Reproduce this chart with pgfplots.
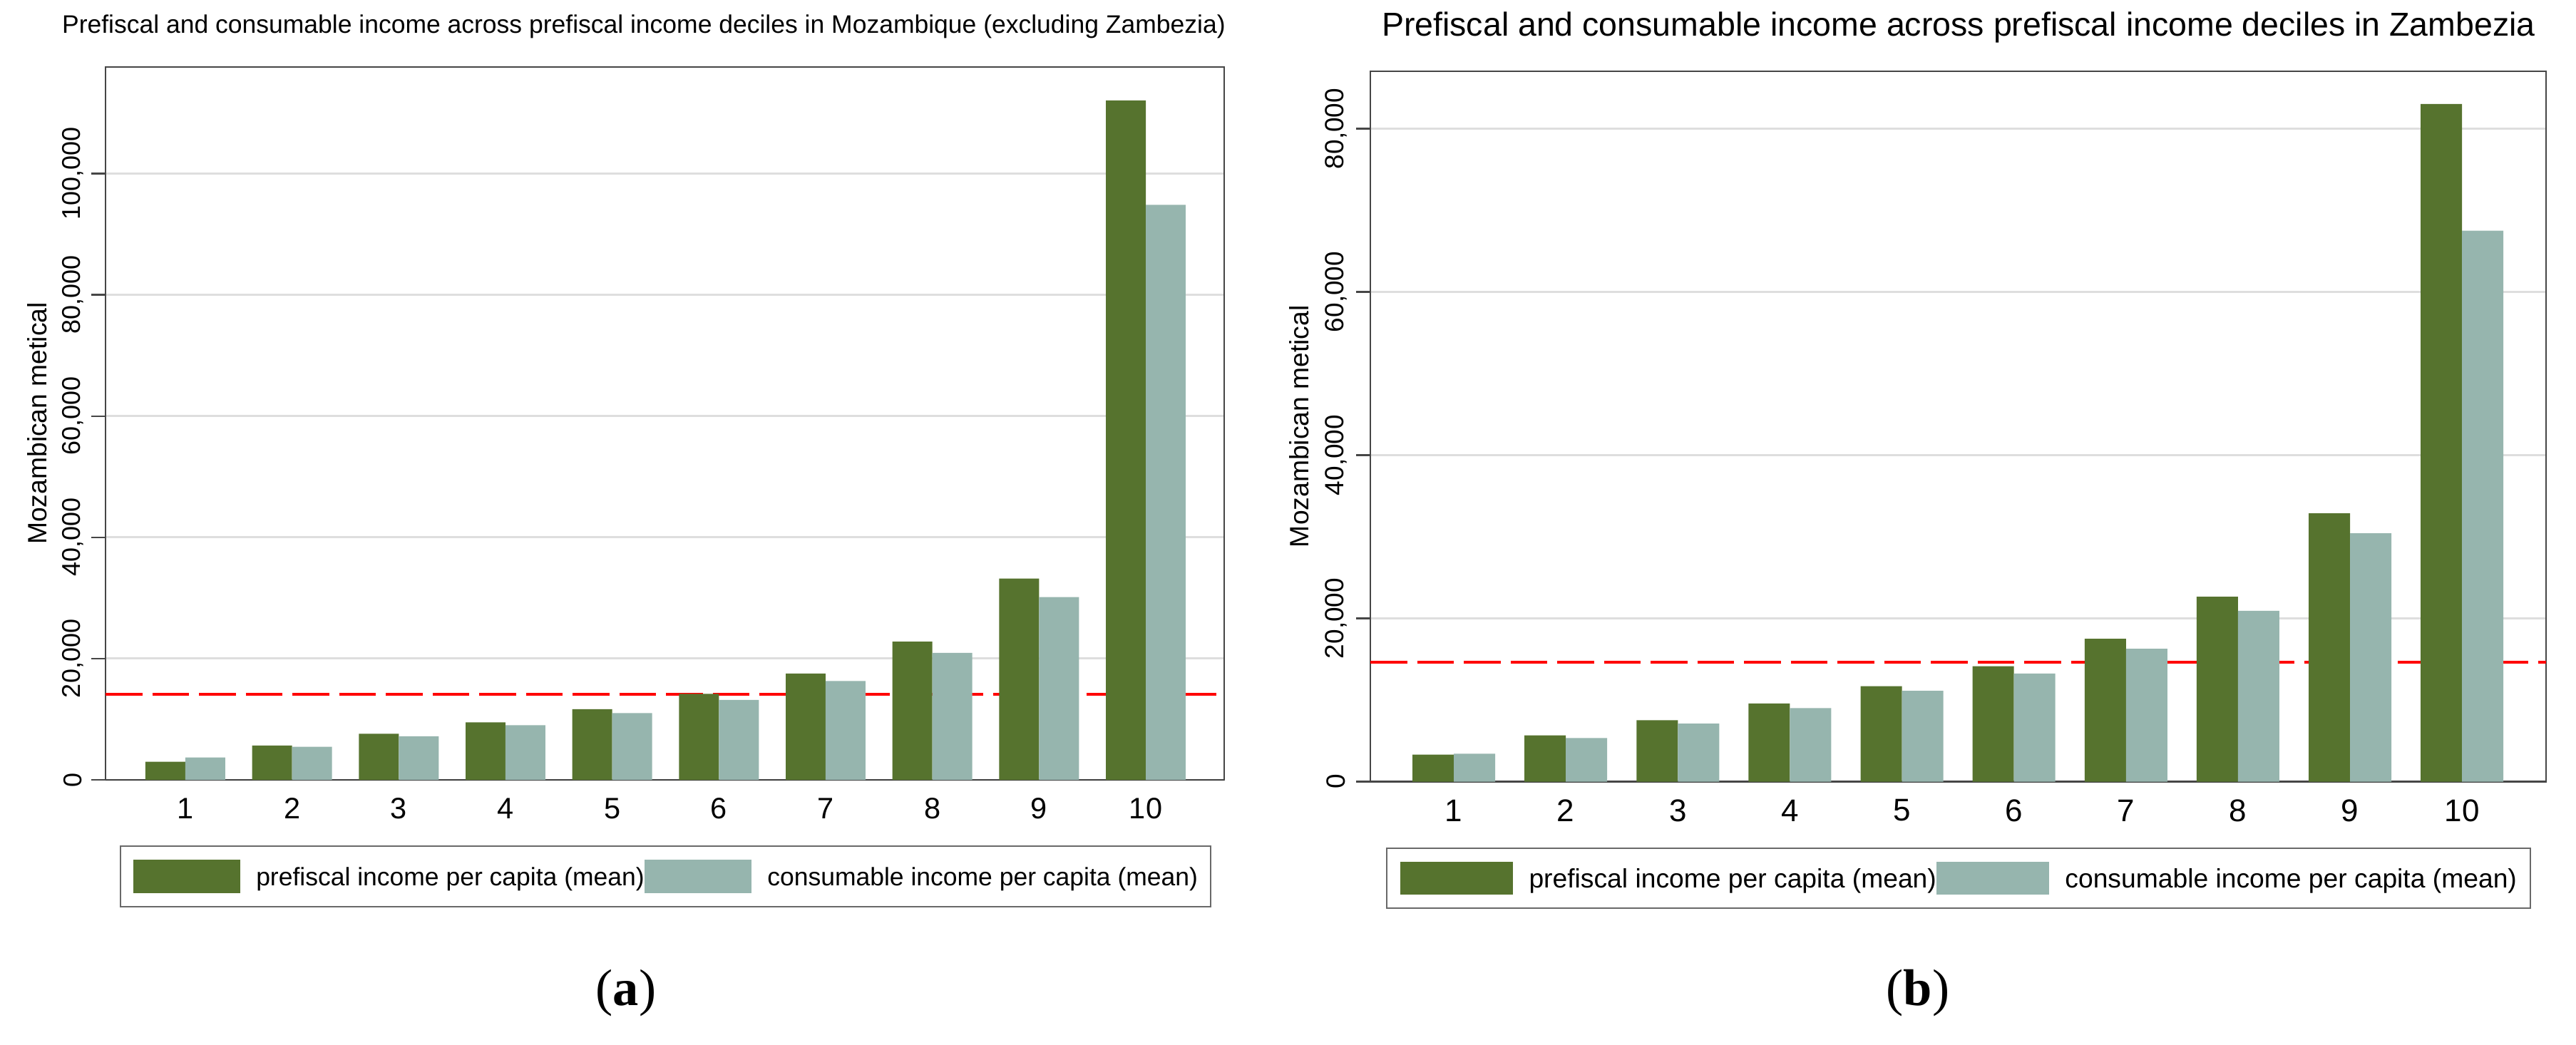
\documentclass[border=0pt]{standalone}
\usepackage{fontspec}
\setmainfont{Liberation Sans}
\newfontfamily\capfont{Liberation Serif}
\usepackage{pgfplots}
\pgfplotsset{compat=1.18}

\definecolor{prefis}{RGB}{86,115,46}
\definecolor{consum}{RGB}{150,181,174}
\definecolor{framec}{RGB}{70,70,70}
\definecolor{gridc}{RGB}{222,222,222}
\definecolor{legfr}{RGB}{105,105,105}

% prefiscal income per capita (mean), deciles 1-10
\pgfplotstableread{
dec pre con
1 3000 3700
2 5650 5450
3 7600 7200
4 9480 9020
5 11650 11000
6 14200 13200
7 17550 16300
8 22800 20950
9 33200 30150
10 112100 94850
}\moz
\pgfplotstableread{
dec pre con
1 3300 3430
2 5660 5350
3 7520 7100
4 9570 9000
5 11700 11130
6 14150 13250
7 17500 16280
8 22660 20940
9 32880 30430
10 83030 67490
}\zam

\pgfplotsset{
  stata/.style={
    scale only axis,
    anchor=south west,
    ymin=0,
    xtick={1,...,10},
    ytick pos=left, xtick pos=bottom,
    tick align=outside,
    major tick length=4pt,
    major x tick style={draw=none},
    major y tick style={framec, line width=0.5pt},
    axis line style={framec, line width=0.5pt},
    ymajorgrids, grid style={gridc, line width=0.6pt},
    scaled y ticks=false,
    /pgf/number format/fixed,
    /pgf/number format/1000 sep={,},
    /pgf/number format/assume math mode=true,
    yticklabel style={rotate=90, anchor=center, inner sep=0pt},
    xticklabel style={anchor=center, inner sep=0pt},
    ylabel={Mozambican metical},
    title style={anchor=base, inner sep=0pt},
    legend columns=2,
    legend style={anchor=center, draw=legfr, line width=0.5pt,
      inner ysep=3.8pt, nodes={inner sep=0pt, anchor=base}},
  },
  swatch/.style={legend image code/.code={
    \fill (0pt,\swLo) rectangle (\swW,\swHi);
    \path (\swW+\swGap,0pt);}},
}

\begin{document}
\begin{tikzpicture}
\useasboundingbox (0,0) rectangle (722.6pt,293pt);

% (a) Mozambique without Zambezia
\def\swW{30pt}\def\swLo{-2.1pt}\def\swHi{7.3pt}\def\swGap{4.5pt}
\begin{axis}[stata,
    at={(29.6pt,74.2pt)},
    width=313.8pt, height=200pt,
    xmin=0.252, xmax=10.735,
    ymax=117600,
    ytick={0,20000,40000,60000,80000,100000},
    yticklabel shift=5.2pt,
    xticklabel shift=4pt,
    yticklabel style={font=\fontsize{7.2}{8}\selectfont},
    xticklabel style={font=\fontsize{8.3}{9}\selectfont},
    ylabel style={at={(axis description cs:-0.0612,0.5)}, anchor=center,
      font=\fontsize{7.45}{8}\selectfont},
    title={Prefiscal and consumable income across prefiscal income deciles in Mozambique (excluding Zambezia)},
    title style={at={(axis description cs:0.4812,1.018)}, font=\fontsize{7.1}{8}\selectfont},
    legend style={at={(0.5006,-0.1355)}, inner xsep=3.6pt,
      font=\fontsize{7.1}{8}\selectfont},
  ]
  \addplot[forget plot, red, line width=0.8pt, dash pattern=on 10.3pt off 2.8pt]
    coordinates {(0.252,14150) (10.735,14150)};
  \addplot[ybar, bar width=0.374, bar shift=-0.187, fill=prefis, draw=none, swatch]
    table[x=dec, y=pre] {\moz};
  \addlegendentry{prefiscal income per capita (mean)\hspace{2.4pt}}
  \addplot[ybar, bar width=0.374, bar shift=0.187, fill=consum, draw=none, swatch]
    table[x=dec, y=con] {\moz};
  \addlegendentry{consumable income per capita (mean)}
\end{axis}

% (b) Zambezia
\def\swW{31.6pt}\def\swLo{-1.9pt}\def\swHi{7.3pt}\def\swGap{4.5pt}
\begin{axis}[stata,
    at={(384.4pt,73.7pt)},
    width=329.8pt, height=199.3pt,
    xmin=0.255, xmax=10.75,
    ymax=87030,
    ytick={0,20000,40000,60000,80000},
    yticklabel shift=5.7pt,
    xticklabel shift=4.1pt,
    yticklabel style={font=\fontsize{7.4}{8}\selectfont},
    xticklabel style={font=\fontsize{8.8}{9}\selectfont},
    ylabel style={at={(axis description cs:-0.0606,0.5)}, anchor=center,
      font=\fontsize{7.45}{8}\selectfont},
    title={Prefiscal and consumable income across prefiscal income deciles in Zambezia},
    title style={at={(axis description cs:0.5003,1.020)}, font=\fontsize{9.3}{10}\selectfont},
    legend style={at={(0.5003,-0.136)}, inner xsep=3.8pt,
      font=\fontsize{7.45}{8}\selectfont},
  ]
  \addplot[forget plot, red, line width=0.8pt, dash pattern=on 10.3pt off 2.8pt]
    coordinates {(0.255,14600) (10.75,14600)};
  \addplot[ybar, bar width=0.369, bar shift=-0.1845, fill=prefis, draw=none, swatch]
    table[x=dec, y=pre] {\zam};
  \addlegendentry{prefiscal income per capita (mean)\hspace{2pt}}
  \addplot[ybar, bar width=0.369, bar shift=0.1845, fill=consum, draw=none, swatch]
    table[x=dec, y=con] {\zam};
  \addlegendentry{consumable income per capita (mean)}
\end{axis}

\node[font=\capfont\fontsize{14.5}{16}\selectfont] at (175.6pt,14.4pt) {(\textbf{a})};
\node[font=\capfont\fontsize{14.5}{16}\selectfont] at (538pt,14.4pt) {(\textbf{b})};
\end{tikzpicture}
\end{document}
